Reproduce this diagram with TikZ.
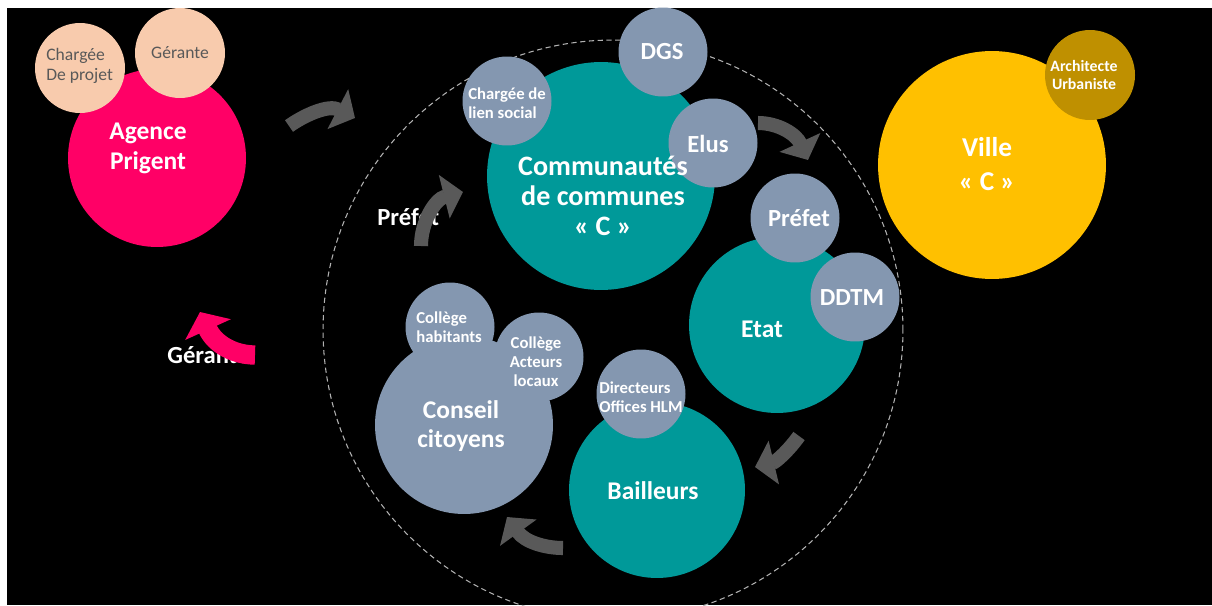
\documentclass[tikz,border=0pt]{standalone}
\usepackage{fontspec}
\setmainfont{Carlito}
\usetikzlibrary{arrows.meta}
\definecolor{agpink}{HTML}{FF0066}
\definecolor{peach}{HTML}{F8CBAD}
\definecolor{darktxt}{HTML}{595959}
\definecolor{teal}{HTML}{009999}
\definecolor{greyblue}{HTML}{8497B0}
\definecolor{villeyel}{HTML}{FFC000}
\definecolor{gold}{HTML}{BF9000}
\definecolor{flowgrey}{HTML}{595959}
\tikzset{
  bubble/.style={
    shape = circle,
    fill = #1,
    inner sep = 0pt,
    outer sep = 0pt
  },
  bigtxt/.style={
    text = white,
    align = center,
    inner sep = 0pt,
    font = \fontsize{14.5}{17}\selectfont\bfseries
  },
  midtxt/.style={
    text = white,
    inner sep = 0pt,
    font = \fontsize{14}{16}\selectfont\bfseries
  },
  smalltxt/.style={
    text = white,
    align = left,
    inner sep = 0pt,
    font = \fontsize{9.5}{10.8}\selectfont\bfseries
  },
  flow/.style={
    draw = #1,
    line width = 8pt,
    -{Triangle[length=11pt,width=25pt]}
  },
  flow/.default = flowgrey
}

\begin{document}
\begin{tikzpicture}[x=0.02cm,y=-0.02cm]
  \useasboundingbox[fill=white] (0,0) rectangle (1212,605);
  \fill[black] (7,8) rectangle (1212,605);
  \begin{scope}
    \clip (7,8) rectangle (1212,605);
    \draw[gray!60, line width=0.6pt, dash pattern=on 3pt off 2pt] (613,330) circle (5.8cm);
  \end{scope}

  % texts half hidden under the arrows
  \node[midtxt, anchor=west] (prefet-h) at (377,217) {Préfet};
  \node[midtxt, anchor=west] (gerante-h) at (167,355) {Gérante};

  % arrows
  \coordinate (a1s) at (289,126); \coordinate (a1e) at (355,118);
  \coordinate (a2s) at (421,246); \coordinate (a2e) at (463,192);
  \coordinate (a3s) at (758,123); \coordinate (a3e) at (808,160);
  \coordinate (a4s) at (799,436); \coordinate (a4e) at (755,467);
  \coordinate (a5s) at (563,548); \coordinate (a5e) at (507,517);
  \coordinate (a6s) at (255,355); \coordinate (a6e) at (200,312);
  \draw[flow] (a1s) .. controls (303,116) and (328,104) .. (a1e);
  \draw[flow] (a2s) .. controls (421,222) and (435,199) .. (a2e);
  \draw[flow] (a3s) .. controls (778,123) and (796,134) .. (a3e);
  \draw[flow] (a4s) .. controls (789,450) and (776,462) .. (a4e);
  \draw[flow] (a5s) .. controls (545,548) and (525,542) .. (a5e);
  \draw[flow=agpink, line width=11pt, -{Triangle[length=11pt,width=28pt]}]
    (a6s) .. controls (235,355) and (215,345) .. (a6e);

  % big circles
  \node[bubble=agpink, minimum size=3.56cm] (agence) at (157,158) {};
  \node[bubble=teal, minimum size=4.56cm] (cdc) at (601,176) {};
  \node[bubble=teal, minimum size=3.52cm] (etat) at (777,325) {};
  \node[bubble=teal, minimum size=3.52cm] (bailleurs) at (657,490) {};
  \node[bubble=greyblue, minimum size=3.56cm] (conseil) at (464,425) {};
  \node[bubble=villeyel, minimum size=4.56cm] (ville) at (992,165) {};

  % small circles
  \foreach \nm/\x/\y in {chargee/80/68, gerante/180/53}
    \node[bubble=peach, minimum size=1.8cm] (\nm) at (\x,\y) {};
  \foreach \nm/\x/\y in {dgs/663/52, lien/507/101, elus/713/143, prefet/795/218,
                         ddtm/855/297, hlm/641/394, habit/450/327, acteurs/539/357}
    \node[bubble=greyblue, minimum size=1.78cm] (\nm) at (\x,\y) {};
  \node[bubble=gold, minimum size=1.8cm] (archi) at (1090,75) {};

  % labels
  \node[bigtxt] (agence-t) at (148,148) {Agence\\Prigent};
  \node[bigtxt, font=\fontsize{16}{17}\selectfont\bfseries] (cdc-t) at (603,196) {Communautés\\de communes\\« C »};
  \node[bigtxt] (etat-t) at (762,329) {Etat};
  \node[bigtxt] (bailleurs-t) at (653,491) {Bailleurs};
  \node[bigtxt] (conseil-t) at (461,426) {Conseil\\citoyens};
  \node[bigtxt, font=\fontsize{15.5}{19}\selectfont\bfseries] (ville-t) at (987,164) {Ville\\« C »};
  \foreach \nm/\x/\y/\txt in {dgs/662/52/DGS, elus/708/144/Elus, prefet/799/218/Préfet, ddtm/852/298/DDTM}
    \node[midtxt] (\nm-t) at (\x,\y) {\txt};
  \node[smalltxt, anchor=west, text=darktxt, font=\fontsize{10}{11.3}\selectfont] (chargee-t) at (46,66) {Chargée\\De projet};
  \node[smalltxt, text=darktxt, font=\fontsize{10}{11.3}\selectfont] (gerante-t) at (180,53) {Gérante};
  \node[smalltxt, anchor=west] (lien-t) at (468,103) {Chargée de\\lien social};
  \node[smalltxt, anchor=west] (hlm-t) at (599,397) {Directeurs\\Offices HLM};
  \node[smalltxt, anchor=west] (habit-t) at (416,327) {Collège\\habitants};
  \node[smalltxt, align=center] (acteurs-t) at (536,362) {Collège\\Acteurs\\locaux};
  \node[smalltxt, align=center, font=\fontsize{9}{10.5}\selectfont\bfseries] (archi-t) at (1084,75) {Architecte\\Urbaniste};
\end{tikzpicture}
\end{document}
